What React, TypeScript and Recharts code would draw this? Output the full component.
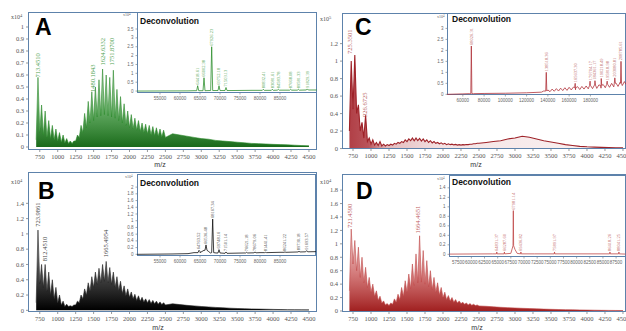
import React from 'react';
import { ComposedChart, Area, Line, XAxis, YAxis, ReferenceDot } from 'recharts';

const BOX = '#5d82ab';
const SERIF = '"Liberation Serif", "DejaVu Serif", serif';
const SANS = '"Liberation Sans", Arial, sans-serif';

// ---------- main spectra ----------
const mz = [
  700, 725, 750, 775, 800, 825, 850, 875, 900, 925, 950, 975, 1000, 1025, 1050, 1075, 1100, 1125, 1150, 1175,
  1200, 1225, 1250, 1275, 1300, 1325, 1350, 1375, 1400, 1425, 1450, 1475, 1500, 1525, 1550, 1575, 1600, 1625,
  1650, 1675, 1700, 1725, 1750, 1775, 1800, 1825, 1850, 1875, 1900, 1925, 1950, 1975, 2000, 2025, 2050, 2075,
  2100, 2125, 2150, 2175, 2200, 2225, 2250, 2275, 2300, 2325, 2350, 2375, 2400, 2425, 2450, 2475, 2500,
  2600, 2700, 2800, 2900, 3000, 3100, 3200, 3300, 3400, 3500, 3600, 3700, 3800, 3900, 4000, 4100, 4200, 4300, 4400, 4500,
];

const intensityA = [
  0.06, 0.58, 0.12, 0.35, 0.1, 0.3, 0.08, 0.22, 0.07, 0.18, 0.06, 0.15, 0.05, 0.12, 0.04, 0.1, 0.035, 0.07, 0.03, 0.05,
  0.03, 0.05, 0.05, 0.1, 0.08, 0.18, 0.12, 0.28, 0.16, 0.38, 0.2, 0.46, 0.22, 0.5, 0.25, 0.56, 0.26, 0.65,
  0.27, 0.6, 0.26, 0.58, 0.25, 0.64, 0.24, 0.48, 0.22, 0.42, 0.2, 0.36, 0.18, 0.3, 0.16, 0.27, 0.15, 0.24,
  0.14, 0.22, 0.13, 0.2, 0.12, 0.19, 0.11, 0.18, 0.1, 0.17, 0.095, 0.16, 0.09, 0.15, 0.085, 0.14, 0.08,
  0.11, 0.1, 0.09, 0.08, 0.07, 0.065, 0.055, 0.05, 0.045, 0.04, 0.035, 0.03, 0.028, 0.025, 0.022, 0.02, 0.018, 0.015, 0.012, 0.01,
];

const intensityB = [
  0.1, 1.05, 0.35, 0.6, 0.3, 0.6, 0.25, 0.5, 0.2, 0.4, 0.15, 0.3, 0.1, 0.2, 0.07, 0.12, 0.05, 0.08, 0.05, 0.06,
  0.05, 0.07, 0.07, 0.12, 0.1, 0.2, 0.15, 0.28, 0.2, 0.36, 0.25, 0.44, 0.3, 0.5, 0.34, 0.55, 0.36, 0.6,
  0.38, 0.64, 0.36, 0.56, 0.34, 0.5, 0.3, 0.44, 0.26, 0.38, 0.22, 0.32, 0.19, 0.28, 0.17, 0.24, 0.15, 0.21,
  0.13, 0.19, 0.12, 0.17, 0.11, 0.15, 0.1, 0.14, 0.09, 0.13, 0.085, 0.12, 0.08, 0.11, 0.075, 0.1, 0.07,
  0.085, 0.075, 0.065, 0.058, 0.05, 0.044, 0.038, 0.033, 0.028, 0.024, 0.021, 0.018, 0.016, 0.014, 0.012, 0.01, 0.009, 0.008, 0.007, 0.006,
];

const intensityC = [
  0.2, 1.0, 0.45, 1.07, 0.4, 0.5, 0.2, 0.3, 0.12, 0.38, 0.08, 0.12, 0.05, 0.1, 0.04, 0.07, 0.035, 0.08, 0.03, 0.05,
  0.03, 0.045, 0.035, 0.05, 0.04, 0.06, 0.05, 0.07, 0.06, 0.08, 0.07, 0.1, 0.08, 0.11, 0.09, 0.12, 0.09, 0.12,
  0.09, 0.115, 0.085, 0.11, 0.08, 0.1, 0.07, 0.09, 0.065, 0.08, 0.06, 0.07, 0.055, 0.065, 0.05, 0.06, 0.045, 0.055,
  0.045, 0.05, 0.042, 0.048, 0.04, 0.045, 0.04, 0.045, 0.042, 0.047, 0.045, 0.05, 0.05, 0.055, 0.055, 0.06, 0.06,
  0.07, 0.08, 0.09, 0.11, 0.12, 0.14, 0.13, 0.11, 0.09, 0.075, 0.06, 0.045, 0.035, 0.025, 0.02, 0.017, 0.014, 0.012, 0.01, 0.008,
];

const intensityD = [
  0.3, 1.22, 0.7, 1.05, 0.6, 0.95, 0.5, 0.8, 0.42, 0.65, 0.35, 0.5, 0.28, 0.4, 0.22, 0.3, 0.16, 0.22, 0.12, 0.15,
  0.09, 0.11, 0.08, 0.12, 0.1, 0.18, 0.13, 0.25, 0.17, 0.35, 0.22, 0.45, 0.28, 0.55, 0.33, 0.7, 0.38, 0.85,
  0.42, 1.12, 0.43, 0.9, 0.4, 0.75, 0.36, 0.6, 0.32, 0.5, 0.28, 0.42, 0.24, 0.35, 0.2, 0.28, 0.17, 0.23,
  0.15, 0.2, 0.13, 0.17, 0.12, 0.15, 0.11, 0.13, 0.1, 0.12, 0.09, 0.11, 0.085, 0.1, 0.08, 0.09, 0.075,
  0.07, 0.062, 0.055, 0.05, 0.045, 0.04, 0.036, 0.032, 0.028, 0.025, 0.022, 0.02, 0.018, 0.016, 0.014, 0.012, 0.01, 0.009, 0.008, 0.007,
];

const mainMzTicks = [750, 1000, 1250, 1500, 1750, 2000, 2250, 2500, 2750, 3000, 3250, 3500, 3750, 4000, 4250, 4500];
const yTicksA = [0, 0.1, 0.2, 0.3, 0.4, 0.5, 0.6, 0.7, 0.8, 0.9, 1];
const yTicksB = [0, 0.2, 0.4, 0.6, 0.8, 1, 1.2, 1.4];
const yTicksC = [0, 0.2, 0.4, 0.6, 0.8, 1, 1.2];
const yTicksD = [0, 0.2, 0.4, 0.6, 0.8, 1, 1.2, 1.4, 1.6, 1.8];

type Ann = [number, number, string];
const annotA: Ann[] = [[713, 0.57, '713.4510'], [1480, 0.45, '1480.1843'], [1624, 0.67, '1624.6332'], [1751, 0.67, '1751.8700']];
const annotB: Ann[] = [[724, 1.08, '723.9861'], [812, 0.63, '812.4510'], [1665, 0.68, '1665.4954']];
const annotC: Ann[] = [[705, 1.07, '725.3501'], [905, 0.35, '926.6725']];
const annotD: Ann[] = [[705, 1.22, '721.4590'], [1645, 1.14, '1664.4651']];

// ---------- deconvolution insets ----------
type Peak = [number, number, number, string]; // mass, height, base, label
const insetTicksAB = [55000, 60000, 65000, 70000, 75000, 80000, 85000];
const insetTicksC = [60000, 80000, 100000, 120000, 140000, 160000, 180000];
const insetTicksD = [57500, 60000, 62500, 65000, 67500, 70000, 72500, 75000, 77500, 80000, 82500, 85000, 87500];
const insetYTicksA = [0, 0.5, 1, 1.5, 2, 2.5, 3, 3.5];
const insetYTicksB = [0, 0.2, 0.4, 0.6, 0.8, 1, 1.2, 1.4, 1.6, 1.8, 2];
const insetYTicksC = [0, 0.5, 1, 1.5, 2, 2.5, 3];
const insetYTicksD = [0, 0.2, 0.4, 0.6, 0.8, 1, 1.2, 1.4];

const insetBaseA: [number, number][] = [[49300, 0], [62000, 0.01], [63500, 0.02], [73000, 0.03], [78000, 0.04], [86000, 0.05], [94200, 0.06]];
const insetPeaksA: Peak[] = [
  [64420, 0.3, 0.02, '64418.61'], [66000, 0.75, 0.02, '66002.38'], [67920, 2.5, 0.03, '67926.23'],
  [69750, 0.3, 0.03, '69752.18'], [71500, 0.2, 0.03, '71503.13'], [80830, 0.1, 0.04, '80832.41'],
  [83080, 0.1, 0.04, '83081.61'], [84580, 0.1, 0.05, '84583.78'], [87670, 0.1, 0.05, '87668.08'],
  [89580, 0.1, 0.05, '89581.33'], [91830, 0.12, 0.06, '91829.39'],
];

const insetBaseB: [number, number][] = [
  [49300, 0], [58000, 0.01], [62000, 0.02], [63500, 0.05], [65000, 0.08], [66000, 0.12], [67200, 0.08], [67600, 0.04],
  [69000, 0.04], [72000, 0.03], [76000, 0.04], [80000, 0.05], [85000, 0.06], [90000, 0.07], [94000, 0.08],
];
const insetPeaksB: Peak[] = [
  [64750, 0.12, 0.05, '64763.52'], [66500, 0.28, 0.12, '66536.48'], [68170, 1.05, 0.05, '68167.34'],
  [69750, 0.14, 0.04, '69748.16'], [71500, 0.07, 0.03, '71501.14'], [76670, 0.06, 0.04, '76621.18'],
  [78750, 0.07, 0.045, '78679.06'], [81420, 0.06, 0.05, '81441.41'], [86250, 0.07, 0.06, '86241.22'],
  [89750, 0.09, 0.07, '89730.18'], [91670, 0.11, 0.075, '91693.57'],
];

const insetBaseC: [number, number][] = [
  [45100, 0], [60000, 0.02], [66000, 0.03], [70000, 0.03], [80000, 0.04], [100000, 0.05], [120000, 0.07], [134000, 0.1],
  [136000, 0.15], [140000, 0.2], [142000, 0.12], [144000, 0.24], [146000, 0.14], [148000, 0.26], [150000, 0.15],
  [152000, 0.28], [154000, 0.17], [156000, 0.3], [158000, 0.18], [160000, 0.32], [162000, 0.2], [164000, 0.33],
  [166000, 0.21], [168000, 0.35], [170000, 0.22], [172000, 0.36], [174000, 0.24], [176000, 0.38], [178000, 0.25],
  [180000, 0.4], [182000, 0.26], [184000, 0.42], [186000, 0.27], [188000, 0.43], [190000, 0.28], [192000, 0.45],
  [194000, 0.3], [196000, 0.47], [198000, 0.32], [200000, 0.5], [202000, 0.34], [204000, 0.52], [206000, 0.36],
  [208000, 0.55], [210000, 0.4], [212000, 0.58], [213500, 0.45],
];
const insetPeaksC: Peak[] = [
  [68000, 2.2, 0.03, '68026.31'], [138500, 1.0, 0.15, '138518.36'], [165700, 0.5, 0.3, '165637.30'],
  [179700, 0.6, 0.4, '179704.17'], [184300, 0.62, 0.42, '184361.17'], [190200, 0.72, 0.4, '190218.49'],
  [195800, 0.6, 0.45, '195818.98'], [203000, 0.75, 0.5, '203080.81'], [208800, 1.5, 0.5, '208785.61'],
];

const insetBaseD: [number, number][] = [[55800, 0.005], [64000, 0.01], [67500, 0.02], [68300, 0.1], [68700, 0.02], [72000, 0.01], [89300, 0.005]];
const insetPeaksD: Peak[] = [
  [64830, 0.05, 0.01, '64831.37'], [66280, 0.05, 0.01, '66287.60'], [67970, 0.92, 0.18, '67981.14'],
  [69410, 0.05, 0.01, '69436.82'], [75800, 0.05, 0.01, '75891.97'], [86330, 0.05, 0.01, '86418.26'],
  [88030, 0.05, 0.01, '88041.25'],
];

function buildInset(base: [number, number][], peaks: Peak[], w: number) {
  const pts: { m: number; v: number }[] = base.map(([m, v]) => ({ m, v }));
  peaks.forEach(([m, h, b]) => {
    pts.push({ m: m - w, v: b }, { m, v: h }, { m: m + w, v: b });
  });
  pts.sort((a, b) => a.m - b.m);
  return pts;
}

function VText(props: any) {
  const { cx, cy, text, color, size } = props;
  if (cx == null || cy == null) return null;
  const y = cy - 1;
  return (
    <text x={cx} y={y} transform={`rotate(-90 ${cx} ${y})`} textAnchor="start" dominantBaseline="central"
      fontSize={size} fill={color} fontFamily={SERIF}>{text}</text>
  );
}

type MainProps = {
  left: number; top: number; width: number; height: number; plotTop: number; plotRight: number; xHeight: number;
  xDomain: [number, number]; yDomain: [number, number]; yTicks: number[]; values: number[];
  stroke: string; strokeWidth: number; fill: string; annots: Ann[]; labelColor: string;
};

function MainSpectrum(p: MainProps) {
  const rows = mz.map((m, i) => ({ mz: m, v: p.values[i] }));
  const yW = 28;
  const plotW = p.width - yW - p.plotRight;
  const plotH = p.height - p.plotTop - p.xHeight;
  const tickStyle = { fontSize: 6.5, fill: '#555', fontFamily: SERIF };
  return (
    <div style={{ position: 'absolute', left: p.left, top: p.top, width: p.width, height: p.height }}>
      <ComposedChart width={p.width} height={p.height} data={rows}
        margin={{ top: p.plotTop, right: p.plotRight, bottom: 0, left: 0 }}>
        <XAxis dataKey="mz" type="number" domain={p.xDomain} ticks={mainMzTicks} interval={0} allowDataOverflow
          tickSize={2} tickLine={{ stroke: '#999' }} axisLine={false} height={p.xHeight} tick={tickStyle} />
        <YAxis type="number" domain={p.yDomain} ticks={p.yTicks} interval={0} allowDataOverflow width={yW}
          tickSize={2} tickLine={{ stroke: '#999' }} axisLine={false} tick={tickStyle} />
        <Area type="linear" dataKey="v" stroke={p.stroke} strokeWidth={p.strokeWidth} fill={p.fill} fillOpacity={1}
          isAnimationActive={false} dot={false} activeDot={false} />
        {p.annots.map((a, i) => (
          <ReferenceDot key={i} x={a[0]} y={a[1]} r={0} ifOverflow="visible"
            shape={(sp: any) => <VText cx={sp.cx} cy={sp.cy} text={a[2]} color={p.labelColor} size={6.5} />} />
        ))}
      </ComposedChart>
      <div style={{ position: 'absolute', left: yW, top: p.plotTop, width: plotW, height: plotH,
        border: `1.3px solid ${BOX}`, boxSizing: 'border-box', pointerEvents: 'none' }} />
    </div>
  );
}

type InsetProps = {
  boxLeft: number; boxTop: number; boxRight: number; boxBottom: number;
  xDomain: [number, number]; yDomain: [number, number]; xTicks: number[]; yTicks: number[];
  base: [number, number][]; peaks: Peak[]; w: number; color: string; labelColor: string;
};

function Inset(p: InsetProps) {
  const yW = 14;
  const xH = 8;
  const left = p.boxLeft - yW;
  const width = p.boxRight - left;
  const height = p.boxBottom - p.boxTop + xH;
  const data = buildInset(p.base, p.peaks, p.w);
  const tickStyle = { fontSize: 4.5, fill: '#666', fontFamily: SANS };
  return (
    <div style={{ position: 'absolute', left, top: p.boxTop, width, height }}>
      <div style={{ position: 'absolute', left: yW, top: 0, width: p.boxRight - p.boxLeft, height: p.boxBottom - p.boxTop,
        background: '#fff', border: `1.3px solid ${BOX}`, boxSizing: 'border-box' }} />
      <ComposedChart width={width} height={height} data={data} margin={{ top: 0, right: 0, bottom: 0, left: 0 }}>
        <XAxis dataKey="m" type="number" domain={p.xDomain} ticks={p.xTicks} interval={0} allowDataOverflow
          tickSize={1.5} tickLine={{ stroke: '#aaa' }} axisLine={false} height={xH} tick={tickStyle} />
        <YAxis type="number" domain={p.yDomain} ticks={p.yTicks} interval={0} allowDataOverflow width={yW}
          tickSize={1.5} tickLine={{ stroke: '#aaa' }} axisLine={false} tick={tickStyle} />
        <Line type="linear" dataKey="v" stroke={p.color} strokeWidth={0.8} dot={false} activeDot={false}
          isAnimationActive={false} />
        {p.peaks.map((pk, i) => (
          <ReferenceDot key={i} x={pk[0]} y={pk[1]} r={0} ifOverflow="visible"
            shape={(sp: any) => <VText cx={sp.cx} cy={sp.cy} text={pk[3]} color={p.labelColor} size={4.5} />} />
        ))}
      </ComposedChart>
    </div>
  );
}

function Exp({ x, y, e }: { x: number; y: number; e: string }) {
  return (
    <text x={x} y={y} fontSize={6} fill="#555" fontFamily={SERIF}>
      x10<tspan fontSize={4.5} dy={-2.5}>{e}</tspan>
    </text>
  );
}

export default function App() {
  return (
    <div style={{ position: 'absolute', left: 0, top: 0, width: 626, height: 331, overflow: 'hidden', background: '#fff' }}>
      <svg width={0} height={0} style={{ position: 'absolute' }}>
        <defs>
          <linearGradient id="gA" x1="0" y1="0" x2="0" y2="1">
            <stop offset="0" stopColor="#3a9a3a" stopOpacity={0.35} />
            <stop offset="0.55" stopColor="#2a8a2a" stopOpacity={0.75} />
            <stop offset="1" stopColor="#1a6a1a" stopOpacity={1} />
          </linearGradient>
          <linearGradient id="gB" x1="0" y1="0" x2="0" y2="1">
            <stop offset="0" stopColor="#444" stopOpacity={0.4} />
            <stop offset="0.5" stopColor="#222" stopOpacity={0.8} />
            <stop offset="1" stopColor="#000" stopOpacity={1} />
          </linearGradient>
          <linearGradient id="gC" x1="0" y1="0" x2="1" y2="0">
            <stop offset="0" stopColor="#a82a32" stopOpacity={0.9} />
            <stop offset="0.07" stopColor="#a82a32" stopOpacity={0.8} />
            <stop offset="0.14" stopColor="#b03a40" stopOpacity={0.35} />
            <stop offset="0.35" stopColor="#b84a50" stopOpacity={0.15} />
            <stop offset="1" stopColor="#c06060" stopOpacity={0.08} />
          </linearGradient>
          <linearGradient id="gD" x1="0" y1="0" x2="0" y2="1">
            <stop offset="0" stopColor="#d06060" stopOpacity={0.3} />
            <stop offset="0.55" stopColor="#c04040" stopOpacity={0.7} />
            <stop offset="1" stopColor="#a02020" stopOpacity={1} />
          </linearGradient>
        </defs>
      </svg>
      <MainSpectrum left={0} top={0} width={320} height={170} plotTop={12} plotRight={3} xHeight={20}
        xDomain={[586, 4612]} yDomain={[-0.025, 1.125]} yTicks={yTicksA} values={intensityA}
        stroke="#2a8a2a" strokeWidth={0.6} fill="url(#gA)" annots={annotA} labelColor="#4f9f4f" />
      <MainSpectrum left={314} top={0} width={312} height={170} plotTop={13} plotRight={0} xHeight={21}
        xDomain={[597, 4542]} yDomain={[-0.005, 1.55]} yTicks={yTicksC} values={intensityC}
        stroke="#9e2228" strokeWidth={1.1} fill="url(#gC)" annots={annotC} labelColor="#b86060" />
      <MainSpectrum left={0} top={160} width={320} height={171} plotTop={12} plotRight={3} xHeight={19}
        xDomain={[586, 4612]} yDomain={[-0.022, 1.81]} yTicks={yTicksB} values={intensityB}
        stroke="#222222" strokeWidth={0.6} fill="url(#gB)" annots={annotB} labelColor="#444444" />
      <MainSpectrum left={314} top={160} width={312} height={171} plotTop={14} plotRight={0} xHeight={19}
        xDomain={[597, 4542]} yDomain={[-0.015, 2.04]} yTicks={yTicksD} values={intensityD}
        stroke="#c04848" strokeWidth={0.6} fill="url(#gD)" annots={annotD} labelColor="#c06060" />

      <Inset boxLeft={137} boxTop={12} boxRight={317} boxBottom={93} xDomain={[49250, 94250]} yDomain={[-0.11, 4.46]}
        xTicks={insetTicksAB} yTicks={insetYTicksA} base={insetBaseA} peaks={insetPeaksA} w={250}
        color="#2e8f2e" labelColor="#4f9f4f" />
      <Inset boxLeft={137} boxTop={174} boxRight={316} boxBottom={256} xDomain={[49250, 94000]} yDomain={[-0.05, 2.39]}
        xTicks={insetTicksAB} yTicks={insetYTicksB} base={insetBaseB} peaks={insetPeaksB} w={250}
        color="#111111" labelColor="#444444" />
      <Inset boxLeft={447} boxTop={13} boxRight={626} boxBottom={95} xDomain={[45100, 213500]} yDomain={[-0.03, 3.7]}
        xTicks={insetTicksC} yTicks={insetYTicksC} base={insetBaseC} peaks={insetPeaksC} w={500}
        color="#b0323a" labelColor="#b86060" />
      <Inset boxLeft={449} boxTop={175} boxRight={626} boxBottom={257} xDomain={[55750, 89380]} yDomain={[-0.056, 1.67]}
        xTicks={insetTicksD} yTicks={insetYTicksD} base={insetBaseD} peaks={insetPeaksD} w={60}
        color="#c04848" labelColor="#c06060" />

      <svg width={626} height={331} style={{ position: 'absolute', left: 0, top: 0, pointerEvents: 'none' }}>
        <g fontFamily={SANS} fontWeight="bold" fontSize={23} fill="#000">
          <text x={35} y={35}>A</text>
          <text x={38} y={199}>B</text>
          <text x={355} y={35}>C</text>
          <text x={356} y={199}>D</text>
        </g>
        <g fontFamily={SANS} fontWeight="bold" fontSize={8.5} fill="#111">
          <text x={140} y={24}>Deconvolution</text>
          <text x={140} y={186}>Deconvolution</text>
          <text x={452} y={22}>Deconvolution</text>
          <text x={452} y={185}>Deconvolution</text>
        </g>
        <Exp x={11} y={19} e="4" />
        <Exp x={320} y={21} e="5" />
        <Exp x={11} y={184} e="4" />
        <Exp x={320} y={184} e="4" />
        <g fontFamily={SERIF} fontSize={4} fill="#666">
          <text x={123} y={16}>x10<tspan dy={-1.5} fontSize={3}>4</tspan></text>
          <text x={125} y={178}>x10<tspan dy={-1.5} fontSize={3}>4</tspan></text>
          <text x={437} y={18}>x10<tspan dy={-1.5} fontSize={3}>4</tspan></text>
          <text x={437} y={180}>x10<tspan dy={-1.5} fontSize={3}>4</tspan></text>
        </g>
        <g fontFamily={SANS} fontSize={7} fill="#333" textAnchor="middle">
          <text x={160} y={167}>m/z</text>
          <text x={476} y={167}>m/z</text>
          <text x={158} y={330}>m/z</text>
          <text x={477} y={330}>m/z</text>
        </g>
      </svg>
    </div>
  );
}
